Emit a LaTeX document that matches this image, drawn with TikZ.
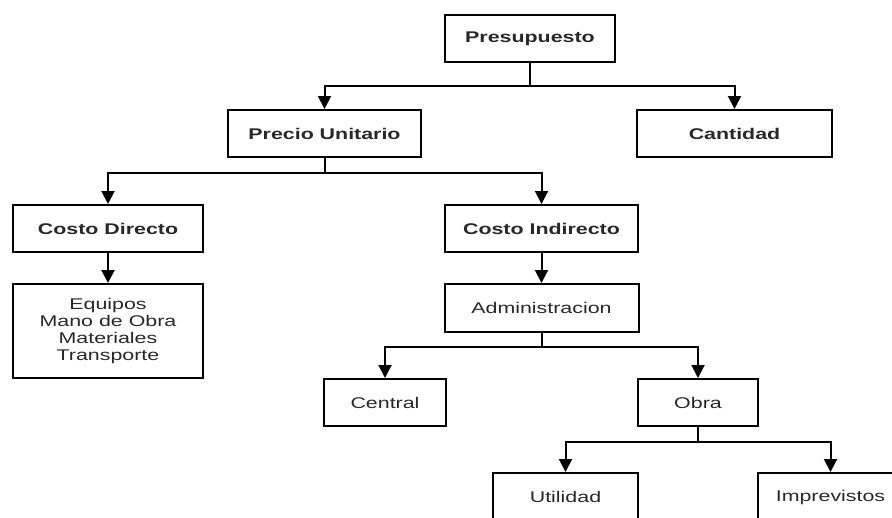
\documentclass[tikz,border=0pt]{standalone}
\usepackage{fontspec}
\setmainfont[FakeStretch=1.38]{Liberation Sans}
\usetikzlibrary{arrows.meta}
\definecolor{tc}{RGB}{40, 40, 40}

\begin{document}
\begin{tikzpicture}[box/.style={rectangle, draw=black, line width=2pt, inner sep=0pt, align=center, text=tc, font=\fontsize{15.5}{16.7}\selectfont}, hd/.style={box, font=\fontsize{15.5}{16.7}\selectfont\bfseries}, conn/.style={line width=2pt, -{Triangle[width=13pt, length=13pt]}}]
\useasboundingbox (0pt, 0pt) rectangle (892pt, -517pt);
\clip (0pt, 0pt) rectangle (892pt, -517pt);
\node (pres) [hd, minimum width=170pt, minimum height=47pt] at (530.0pt, -38.5pt) {Presupuesto};
\node (precio) [hd, minimum width=193pt, minimum height=47pt] at (324.5pt, -133.5pt) {Precio Unitario};
\node (cant) [hd, minimum width=195pt, minimum height=47pt] at (734.5pt, -133.5pt) {Cantidad};
\node (cdir) [hd, minimum width=190pt, minimum height=47pt] at (108.0pt, -228.5pt) {Costo Directo};
\node (cind) [hd, minimum width=193pt, minimum height=47pt] at (541.5pt, -228.5pt) {Costo Indirecto};
\node (insumos) [box, minimum width=190pt, minimum height=94pt] at (108.0pt, -331.0pt) {Equipos\\Mano de Obra\\Materiales\\Transporte};
\node (admin) [box, minimum width=194pt, minimum height=48pt] at (541.5pt, -308.0pt) {Administracion};
\node (central) [box, minimum width=122pt, minimum height=47pt] at (385.0pt, -402.5pt) {Central};
\node (obra) [box, minimum width=120pt, minimum height=47pt] at (698.0pt, -402.5pt) {Obra};
\node (util) [box, minimum width=145pt, minimum height=48pt] at (565.5pt, -497.0pt) {Utilidad};
\node (impr) [box, minimum width=145pt, minimum height=48pt] at (830.5pt, -497.0pt) {Imprevistos};
\coordinate (j1) at (530.0pt, -86.0pt);
\coordinate (j2) at (324.5pt, -173.0pt);
\coordinate (j3) at (541.5pt, -347.0pt);
\coordinate (j4) at (698.0pt, -442.0pt);
\draw [line width=2pt] (pres.south) to (j1);
\draw [conn] (j1) -| (precio.north);
\draw [conn] (j1) -| (cant.north);
\draw [line width=2pt] (precio.south) to (j2);
\draw [conn] (j2) -| (cdir.north);
\draw [conn] (j2) -| (cind.north);
\draw [conn] (cdir.south) to (insumos.north);
\draw [conn] (cind.south) to (admin.north);
\draw [line width=2pt] (admin.south) to (j3);
\draw [conn] (j3) -| (central.north);
\draw [conn] (j3) -| (obra.north);
\draw [line width=2pt] (obra.south) to (j4);
\draw [conn] (j4) -| (util.north);
\draw [conn] (j4) -| (impr.north);
\end{tikzpicture}
\end{document}
